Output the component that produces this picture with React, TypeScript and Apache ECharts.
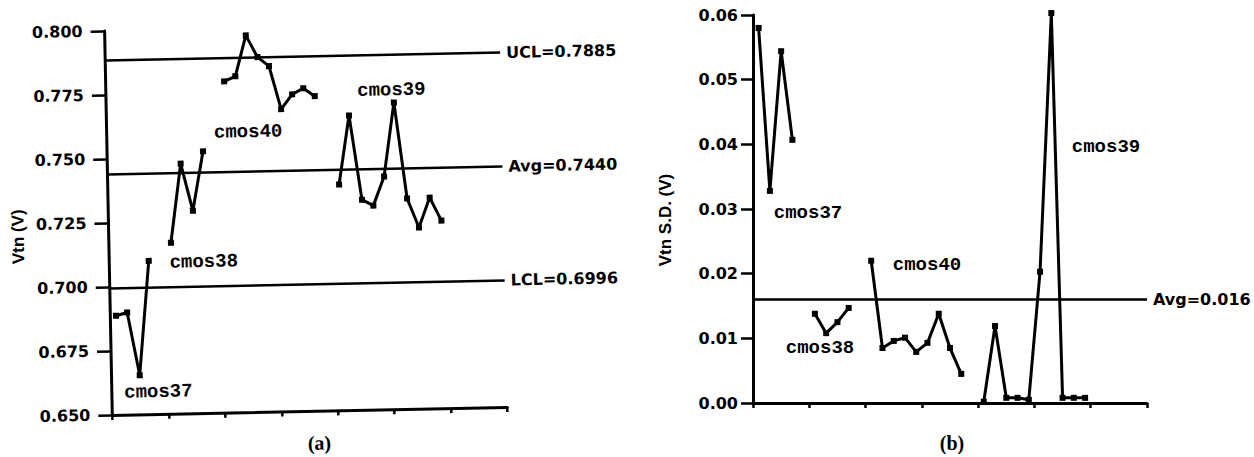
import React, { useEffect, useRef } from 'react';
import * as echarts from 'echarts';

// Lots and the sample slot where each lot's run starts on the shared x scale
const lotNames = ['cmos37', 'cmos38', 'cmos40', 'cmos39'];
const lotFirstSample = [0, 5, 10, 20];

// Mean threshold voltage per sample (V)
const vtnCmos37 = [0.6887, 0.6899, 0.6653, 0.7099];
const vtnCmos38 = [0.7168, 0.7476, 0.7291, 0.7522];
const vtnCmos40 = [0.7794, 0.7813, 0.7972, 0.7886, 0.785, 0.7681, 0.7738, 0.7761, 0.7729];
const vtnCmos39 = [0.7382, 0.7651, 0.7321, 0.7297, 0.741, 0.7698, 0.7322, 0.7208, 0.7324, 0.7233];

// Standard deviation of threshold voltage per sample (V)
const sdCmos37 = [0.058, 0.0328, 0.0544, 0.0407];
const sdCmos38 = [0.0138, 0.0108, 0.0125, 0.0147];
const sdCmos40 = [0.022, 0.0085, 0.0096, 0.0101, 0.0079, 0.0093, 0.0138, 0.0085, 0.0045];
const sdCmos39 = [0.0002, 0.0119, 0.0008, 0.0008, 0.0005, 0.0203, 0.0603, 0.0008, 0.0008, 0.0008];

// Control limits
const vtnUcl = 0.7885;
const vtnAvg = 0.744;
const vtnLcl = 0.6996;
const sdAvg = 0.016;

// Axis ranges
const sampleAxis = { min: 0, max: 35, step: 5 };
const vtnAxis = { min: 0.65, max: 0.8, step: 0.025, digits: 3 };
const sdAxis = { min: 0, max: 0.06, step: 0.01, digits: 2 };

const SANS = 'DejaVu Sans';
const TITLE_SANS = 'Liberation Sans';
const MONO = 'Liberation Mono';
const SERIF = 'Liberation Serif';

type Panel = {
  grid: { left: number; top: number; width: number; height: number };
  yAxis: { min: number; max: number; step: number; digits: number };
  tickLen: number;
  labelMargin: number;
  series: number[][];
  limits: { name: string; value: number }[];
  lotLabels: { x: number; y: number }[];
  yName: { text: string; x: number; y: number };
  caption: { text: string; x: number; y: number };
};

function buildOption(p: Panel): echarts.EChartsCoreOption {
  const lineSeries = p.series.map((vals, i) => ({
    type: 'line',
    name: lotNames[i],
    data: vals.map((v, k) => [lotFirstSample[i] + k + 0.5, v]),
    symbol: 'rect',
    symbolSize: 6,
    showAllSymbol: true,
    clip: false,
    lineStyle: { color: '#000', width: 3 },
    itemStyle: { color: '#000' },
    markLine:
      i === 0
        ? {
            silent: true,
            precision: 4,
            symbol: ['none', 'none'],
            lineStyle: { color: '#000', width: 2.5, type: 'solid' },
            label: {
              position: 'end',
              distance: 6,
              formatter: '{b}',
              color: '#000',
              fontFamily: SANS,
              fontWeight: 'bold',
              fontSize: 16,
            },
            data: p.limits.map((l) => ({ name: l.name, yAxis: l.value })),
          }
        : undefined,
  }));

  const graphic: any[] = lotNames.map((name, i) => ({
    type: 'text',
    x: p.lotLabels[i].x,
    y: p.lotLabels[i].y,
    style: {
      text: name,
      fill: '#000',
      font: `bold 19px "${MONO}"`,
      align: 'center',
      verticalAlign: 'middle',
    },
  }));
  graphic.push({
    type: 'text',
    x: p.yName.x,
    y: p.yName.y,
    rotation: Math.PI / 2,
    style: {
      text: p.yName.text,
      fill: '#000',
      font: `bold 17px "${TITLE_SANS}"`,
      align: 'center',
      verticalAlign: 'middle',
    },
  });
  graphic.push({
    type: 'text',
    x: p.caption.x,
    y: p.caption.y,
    style: {
      text: p.caption.text,
      fill: '#000',
      font: `bold 20px "${SERIF}"`,
      align: 'center',
      verticalAlign: 'middle',
    },
  });

  return {
    animation: false,
    backgroundColor: 'transparent',
    grid: { ...p.grid, containLabel: false },
    xAxis: {
      type: 'value',
      min: sampleAxis.min,
      max: sampleAxis.max,
      interval: sampleAxis.step,
      axisLine: { show: true, onZero: false, lineStyle: { color: '#000', width: 3 } },
      axisTick: { show: true, length: 5, lineStyle: { color: '#000', width: 2.5 } },
      axisLabel: { show: false },
      splitLine: { show: false },
    },
    yAxis: {
      type: 'value',
      min: p.yAxis.min,
      max: p.yAxis.max,
      interval: p.yAxis.step,
      axisLine: { show: true, onZero: false, lineStyle: { color: '#000', width: 3 } },
      axisTick: { show: true, length: p.tickLen, lineStyle: { color: '#000', width: 2.5 } },
      axisLabel: {
        margin: p.labelMargin,
        color: '#000',
        fontFamily: SANS,
        fontWeight: 'bold',
        fontSize: 16,
        formatter: (v: number) => v.toFixed(p.yAxis.digits),
      },
      splitLine: { show: false },
    },
    series: lineSeries,
    graphic,
  };
}

const vtnPanel: Panel = {
  grid: { left: 108.5, top: 27, width: 395, height: 384 },
  yAxis: vtnAxis,
  tickLen: 14,
  labelMargin: 22,
  series: [vtnCmos37, vtnCmos38, vtnCmos40, vtnCmos39],
  limits: [
    { name: `UCL=${vtnUcl.toFixed(4)}`, value: vtnUcl },
    { name: `Avg=${vtnAvg.toFixed(4)}`, value: vtnAvg },
    { name: `LCL=${vtnLcl.toFixed(4)}`, value: vtnLcl },
  ],
  lotLabels: [
    { x: 155, y: 389 },
    { x: 203, y: 260 },
    { x: 250, y: 131 },
    { x: 394, y: 92 },
  ],
  yName: { text: 'Vtn (V)', x: 18, y: 231 },
  caption: { text: '(a)', x: 315, y: 443 },
};

const sdPanel: Panel = {
  grid: { left: 126, top: 15, width: 394, height: 388 },
  yAxis: sdAxis,
  tickLen: 12,
  labelMargin: 15,
  series: [sdCmos37, sdCmos38, sdCmos40, sdCmos39],
  limits: [{ name: `Avg=${sdAvg.toFixed(3)}`, value: sdAvg }],
  lotLabels: [
    { x: 181, y: 213 },
    { x: 193, y: 348 },
    { x: 300, y: 265 },
    { x: 479, y: 147 },
  ],
  yName: { text: 'Vtn S.D. (V)', x: 38, y: 220 },
  caption: { text: '(b)', x: 325, y: 443 },
};

export default function App() {
  const leftRef = useRef<HTMLDivElement>(null);
  const rightRef = useRef<HTMLDivElement>(null);

  useEffect(() => {
    const left = echarts.init(leftRef.current!, null, { renderer: 'svg' });
    left.setOption(buildOption(vtnPanel));
    const right = echarts.init(rightRef.current!, null, { renderer: 'svg' });
    right.setOption(buildOption(sdPanel));
    return () => {
      left.dispose();
      right.dispose();
    };
  }, []);

  return (
    <div
      style={{
        position: 'fixed',
        left: 0,
        top: 0,
        width: 1254,
        height: 457,
        background: '#fff',
        overflow: 'hidden',
      }}
    >
      <div
        ref={leftRef}
        style={{
          position: 'absolute',
          left: 0,
          top: 0,
          width: 627,
          height: 457,
          transform: 'rotate(-1.15deg)',
          transformOrigin: '306px 223px',
        }}
      />
      <div
        ref={rightRef}
        style={{ position: 'absolute', left: 627, top: 0, width: 627, height: 457 }}
      />
    </div>
  );
}
